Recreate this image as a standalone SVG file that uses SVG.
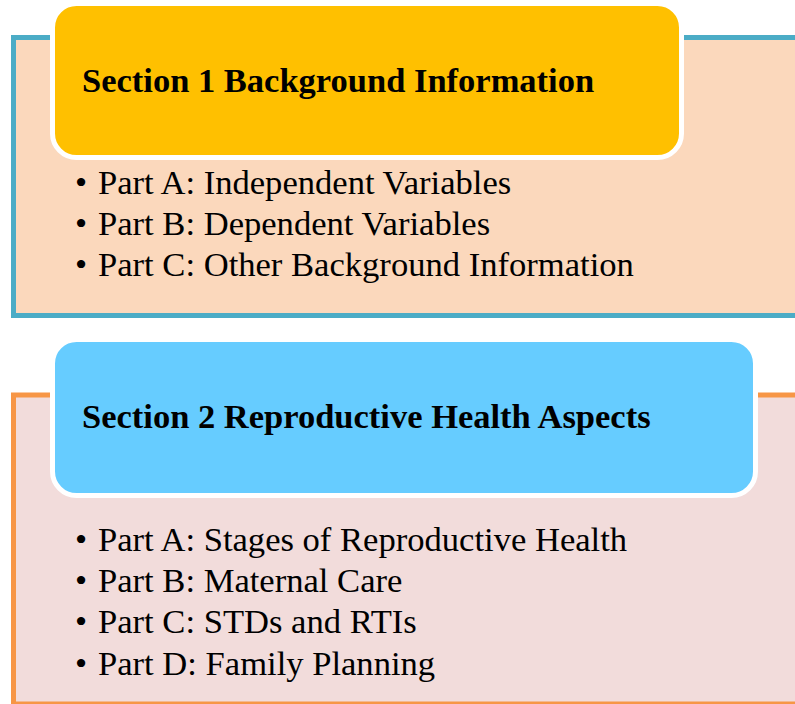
<svg xmlns="http://www.w3.org/2000/svg" width="795" height="704" viewBox="0 0 795 704">
<style>
.title{font-family:"Liberation Serif","Times New Roman",serif;font-weight:bold;font-size:34.5px;fill:#000}
.item{font-family:"Liberation Serif","Times New Roman",serif;font-size:34.6px;fill:#000}
.hdr{stroke:#fff;stroke-width:5}
</style>
<rect width="795" height="704" fill="#fff"/>
<g id="section1">
<rect x="13.5" y="37.5" width="800" height="278" fill="#FBD8BC" stroke="#4BACC6" stroke-width="5"/>
<rect class="hdr" x="52.5" y="3.5" width="629" height="154" rx="24" fill="#FFC000"/>
<text class="title" x="82" y="92">Section 1 Background Information</text>
<text class="item"><tspan x="75" y="194">•</tspan><tspan x="98" y="194">Part A: Independent Variables</tspan></text>
<text class="item"><tspan x="75" y="235">•</tspan><tspan x="98" y="235">Part B: Dependent Variables</tspan></text>
<text class="item"><tspan x="75" y="276">•</tspan><tspan x="98" y="276">Part C: Other Background Information</tspan></text>
</g>
<g id="section2">
<rect x="13.5" y="395" width="800" height="309" fill="#F2DCDB" stroke="#F79646" stroke-width="5"/>
<rect class="hdr" x="52.5" y="339.5" width="703" height="156" rx="24" fill="#66CCFF"/>
<text class="title" x="82" y="428">Section 2 Reproductive Health Aspects</text>
<text class="item"><tspan x="75" y="551">•</tspan><tspan x="98" y="551">Part A: Stages of Reproductive Health</tspan></text>
<text class="item"><tspan x="75" y="592">•</tspan><tspan x="98" y="592">Part B: Maternal Care</tspan></text>
<text class="item"><tspan x="75" y="633">•</tspan><tspan x="98" y="633">Part C: STDs and RTIs</tspan></text>
<text class="item"><tspan x="75" y="675">•</tspan><tspan x="98" y="675">Part D: Family Planning</tspan></text>
</g>
<g id="connectors"/>
</svg>
